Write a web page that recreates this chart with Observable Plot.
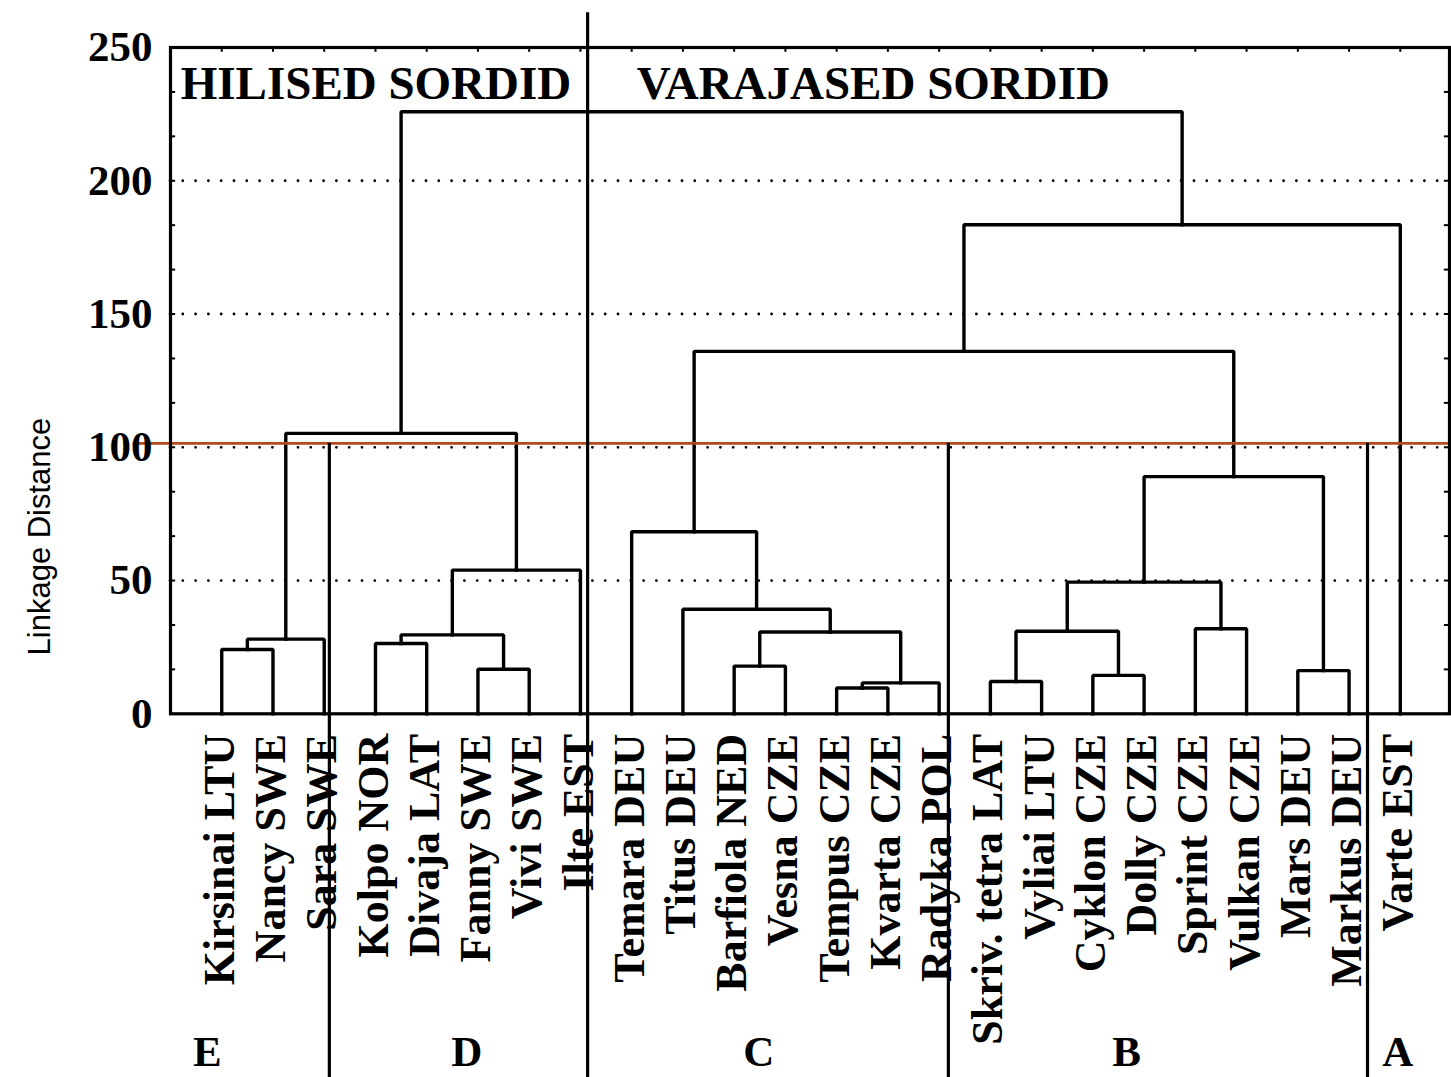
<!DOCTYPE html>
<html><head><meta charset="utf-8">
<script src="https://cdn.jsdelivr.net/npm/d3@7"></script>
<script src="https://cdn.jsdelivr.net/npm/@observablehq/plot@0.6"></script>
<style>html,body{margin:0;padding:0;background:#fff;} #chart{width:1451px;height:1077px;}</style>
</head><body><div id="chart"></div>
<script>
// ---- data ----
const leafNames = ["Kirsinai LTU","Nancy SWE","Sara SWE","Kolpo NOR","Divaja LAT","Fanny SWE","Vivi SWE","Ilte EST",
  "Temara DEU","Titus DEU","Barfiola NED","Vesna CZE","Tempus CZE","Kvarta CZE","Radyka POL",
  "Skriv. tetra LAT","Vyliai LTU","Cyklon CZE","Dolly CZE","Sprint CZE","Vulkan CZE","Mars DEU","Markus DEU","Varte EST"];
// merge k creates node id leafNames.length + k
const mergeA =      [12, 24, 15, 17, 5,  21, 10, 0,  3,  31, 32, 30, 26, 19, 9,  34, 36, 8,  40, 33, 41, 44, 43];
const mergeB =      [13, 14, 16, 18, 6,  22, 11, 1,  4,  2,  28, 25, 27, 20, 35, 7,  37, 38, 29, 39, 42, 23, 45];
const mergeHeight = [9.7,11.6,12.1,14.4,16.7,16.2,17.9,24.1,26.4,28.0,29.6,30.7,31.0,31.9,39.2,53.9,49.4,68.3,89.0,105.2,136.0,183.5,225.9];
const yTickValues = [0, 50, 100, 150, 200, 250];
const gridValues = [50, 100, 150, 200];
const cutDistance = 101.5;
const cutLinePos = [2.1, 7.14, 14.18, 22.36];
const cutLineTop = [cutDistance, 263, cutDistance, cutDistance];
const groupLetters = ["E", "D", "C", "B", "A"];
const groupCenter = [-0.28, 4.78, 10.48, 17.66, 22.95];
const sectionTitles = ["HILISED SORDID", "VARAJASED SORDID"];
const sectionStart = [-0.8, 8.1];
const yLabel = "Linkage Distance";

// ---- build dendrogram paths ----
const nLeaf = leafNames.length;
const nodeX = leafNames.map((_, i) => i);
const nodeH = leafNames.map(() => 0);
const pts = [];
mergeA.forEach((a, k) => {
  const b = mergeB[k], h = mergeHeight[k];
  pts.push({id: k, x: nodeX[a], y: nodeH[a]}, {id: k, x: nodeX[a], y: h},
           {id: k, x: nodeX[b], y: h}, {id: k, x: nodeX[b], y: nodeH[b]});
  nodeX.push((nodeX[a] + nodeX[b]) / 2);
  nodeH.push(h);
});
const leaves = leafNames.map((name, i) => ({name, i}));
const cuts = cutLinePos.map((x, i) => ({x, top: cutLineTop[i]}));
const groups = groupLetters.map((t, i) => ({t, x: groupCenter[i]}));
const titles = sectionTitles.map((t, i) => ({t, x: sectionStart[i]}));
const minorTicks = d3.range(0, 250.01, 50 / 3);

const SERIF = "'Liberation Serif', 'Times New Roman', serif";
const SANS = "'Liberation Sans', Arial, sans-serif";
const BOTTOM = -136.5;

const chart = Plot.plot({
  width: 1451,
  height: 1077,
  marginLeft: 170,
  marginRight: 2,
  marginTop: 47,
  marginBottom: 363.7,
  style: {background: "white", overflow: "visible"},
  x: {domain: [-1, 23.96], axis: null},
  y: {domain: [0, 250], axis: null},
  marks: [
    Plot.ruleY(gridValues, {x1: -1, x2: 23.96, stroke: "black", strokeWidth: 2.8, strokeDasharray: "0,12.8", strokeLinecap: "round"}),
    Plot.ruleY(minorTicks, {x1: -1, x2: -0.9, strokeWidth: 2}),
    Plot.ruleY(minorTicks, {x1: 23.86, x2: 23.96, strokeWidth: 2}),
    Plot.ruleX(d3.range(nLeaf), {y1: 250, y2: 248.2, strokeWidth: 2}),
    Plot.line(pts, {x: "x", y: "y", z: "id", stroke: "black", strokeWidth: 3.4, strokeLinejoin: "miter", strokeLinecap: "square"}),
    Plot.ruleY([cutDistance], {x1: -1.73, x2: 24.05, stroke: "#b5491c", strokeWidth: 2.8}),
    Plot.ruleX(cuts, {x: "x", y1: "top", y2: BOTTOM, stroke: "black", strokeWidth: 3.2}),
    Plot.frame({stroke: "black", strokeWidth: 3.2}),
    Plot.axisY(yTickValues, {anchor: "left", tickSize: 0, tickPadding: 18, fontSize: 43, fontWeight: "bold", fontFamily: SERIF, label: null, fill: "black"}),
    Plot.text(leaves, {x: "i", y: 0, text: "name", rotate: -90, textAnchor: "end", lineAnchor: "middle", dy: 20, dx: -2,
      fontSize: 44, fontWeight: "bold", fontFamily: SERIF, fill: "black"}),
    Plot.text(groups, {x: "x", y: -132.3, text: "t", lineAnchor: "bottom", fontSize: 43, fontWeight: "bold", fontFamily: SERIF, fill: "black"}),
    Plot.text(titles, {x: "x", y: 230.5, text: "t", textAnchor: "start", lineAnchor: "bottom", fontSize: 47, fontWeight: "bold", fontFamily: SERIF, fill: "black"}),
    Plot.text([yLabel], {frameAnchor: "left", y: 66.5, text: d => d, rotate: -90, dx: -130, textAnchor: "middle", lineAnchor: "middle", fontSize: 31, fontFamily: SANS, fill: "black"})
  ]
});
document.getElementById("chart").appendChild(chart);
</script>
</body></html>
